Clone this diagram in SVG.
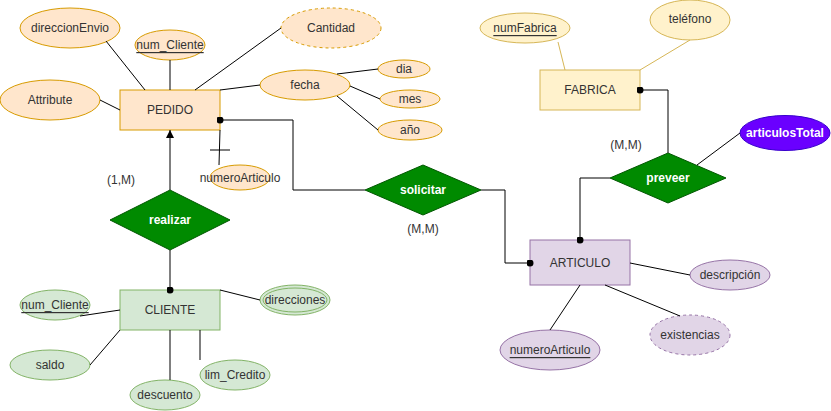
<svg xmlns="http://www.w3.org/2000/svg" width="831" height="411" viewBox="0 0 831 411">
<defs>
<style>
text{font-family:"Liberation Sans",Arial,sans-serif;font-size:12px;fill:#333333;text-anchor:middle;dominant-baseline:central}
.or{fill:#ffe6cc;stroke:#d79b00}
.gr{fill:#d5e8d4;stroke:#82b366}
.pu{fill:#e1d5e7;stroke:#9673a6}
.ye{fill:#fff2cc;stroke:#d6b656}
.rel{fill:#008a00;stroke:#005700}
.rt{fill:#ffffff;font-weight:bold}
.dash{stroke-dasharray:3 3}
.ln{fill:none;stroke:#000000;stroke-width:1}
.u{text-decoration:underline}
</style>
<marker id="dot" viewBox="0 0 10 10" refX="5" refY="5" markerWidth="7" markerHeight="7" markerUnits="userSpaceOnUse"><circle cx="5" cy="5" r="5" fill="#000"/></marker>
<marker id="arr" viewBox="0 0 10 10" refX="10" refY="5" markerWidth="8" markerHeight="8" markerUnits="userSpaceOnUse" orient="auto"><path d="M0,0 L10,5 L0,10 z" fill="#000"/></marker>
</defs>
<g id="PEDIDO"><rect class="or" x="120" y="90" width="100" height="40"/><text x="170" y="110">PEDIDO</text></g>
<g id="direccionEnvio"><ellipse class="or" cx="70" cy="28" rx="50" ry="20"/><text x="70" y="28">direccionEnvio</text></g>
<g id="num_Cliente_p"><ellipse class="or" cx="170" cy="45" rx="35" ry="15"/><text class="u" x="170" y="45">num_Cliente</text></g>
<g id="Cantidad"><ellipse class="or dash" cx="331" cy="28" rx="50" ry="20"/><text x="331" y="28">Cantidad</text></g>
<g id="Attribute"><ellipse class="or" cx="50" cy="100" rx="50" ry="20"/><text x="50" y="100">Attribute</text></g>
<g id="fecha"><ellipse class="or" cx="305" cy="85" rx="45" ry="15"/><text x="305" y="85">fecha</text></g>
<g id="dia"><ellipse class="or" cx="404" cy="69" rx="26" ry="9"/><text x="404" y="69">dia</text></g>
<g id="mes"><ellipse class="or" cx="410" cy="99" rx="30" ry="9"/><text x="410" y="99">mes</text></g>
<g id="anio"><ellipse class="or" cx="410" cy="130" rx="32" ry="10"/><text x="410" y="130">año</text></g>
<g id="numeroArticulo_p"><ellipse class="or" cx="240" cy="177.5" rx="30" ry="12.5"/><text x="240" y="178">numeroArticulo</text></g>
<g id="solicitar"><polygon class="rel" points="365,190 423,165 481,190 423,215"/><text class="rt" x="423" y="190">solicitar</text></g>
<text x="423" y="229">(M,M)</text>
<g id="ARTICULO"><rect class="pu" x="530" y="240" width="100" height="45"/><text x="580" y="263">ARTICULO</text></g>
<g id="descripcion"><ellipse class="pu" cx="730" cy="275" rx="40" ry="15"/><text x="730" y="275">descripción</text></g>
<g id="existencias"><ellipse class="pu dash" cx="690" cy="335" rx="40" ry="20"/><text x="690" y="335">existencias</text></g>
<g id="numeroArticulo"><ellipse class="pu" cx="550" cy="350" rx="50" ry="20"/><text class="u" x="550" y="350">numeroArticulo</text></g>
<g id="FABRICA"><rect class="ye" x="540" y="70" width="100" height="40"/><text x="590" y="90">FABRICA</text></g>
<g id="numFabrica"><ellipse class="ye" cx="525" cy="28" rx="45" ry="15"/><text class="u" x="525" y="28">numFabrica</text></g>
<g id="telefono"><ellipse class="ye" cx="690" cy="20" rx="40" ry="20"/><text x="690" y="19">teléfono</text></g>
<g id="preveer"><polygon class="rel" points="610,178 668,153 726,178 668,203"/><text class="rt" x="668" y="178">preveer</text></g>
<text x="626" y="145">(M,M)</text>
<g id="articulosTotal"><ellipse cx="785" cy="133" rx="45" ry="17.5" fill="#6a00ff" stroke="#3700cc"/><text class="rt" x="785" y="133">articulosTotal</text></g>
<g id="realizar"><polygon class="rel" points="110,220 170,190 230,220 170,250"/><text class="rt" x="170" y="220">realizar</text></g>
<text x="121" y="180">(1,M)</text>
<g id="CLIENTE"><rect class="gr" x="120" y="290" width="100" height="40"/><text x="170" y="310">CLIENTE</text></g>
<g id="num_Cliente"><ellipse class="gr" cx="55" cy="305" rx="35" ry="15"/><text class="u" x="55" y="305">num_Cliente</text></g>
<g id="saldo"><ellipse class="gr" cx="50" cy="365" rx="40" ry="15"/><text x="50" y="365">saldo</text></g>
<g id="descuento"><ellipse class="gr" cx="165" cy="395" rx="35" ry="15"/><text x="165" y="395">descuento</text></g>
<g id="lim_Credito"><ellipse class="gr" cx="235" cy="375" rx="35" ry="15"/><text x="235" y="375">lim_Credito</text></g>
<g id="direcciones"><ellipse class="gr" cx="295" cy="300" rx="35" ry="15"/><ellipse class="gr" cx="295" cy="300" rx="32" ry="12"/><text x="295" y="300">direcciones</text></g>
<g id="connectors">
<line class="ln" x1="106" y1="41" x2="145" y2="90"/>
<line class="ln" x1="170" y1="60" x2="170" y2="90"/>
<line class="ln" x1="281" y1="28" x2="195" y2="90"/>
<line class="ln" x1="100" y1="100" x2="120" y2="110"/>
<line class="ln" x1="220" y1="90" x2="260" y2="85"/>
<line class="ln" x1="337" y1="74" x2="378" y2="69"/>
<line class="ln" x1="350" y1="86" x2="380" y2="99"/>
<line class="ln" x1="337" y1="96" x2="378" y2="130"/>
<line class="ln" x1="220" y1="130" x2="219" y2="165"/>
<line class="ln" x1="210" y1="150" x2="230" y2="150"/>
<path class="ln" d="M365,190 L293,190 L293,120 L220,120" marker-end="url(#dot)"/>
<path class="ln" d="M481,190 L505,190 L505,263 L530,263" marker-end="url(#dot)"/>
<path class="ln" d="M610,178 L580,178 L580,240" marker-end="url(#dot)"/>
<path class="ln" d="M668,153 L668,90 L640,90" marker-end="url(#dot)"/>
<line class="ln" x1="697" y1="165" x2="740" y2="133"/>
<line x1="558" y1="42" x2="565" y2="70" stroke="#d6b656"/>
<line x1="690" y1="40" x2="640" y2="70" stroke="#d6b656"/>
<line class="ln" x1="630" y1="263" x2="690" y2="275"/>
<line class="ln" x1="605" y1="285" x2="680" y2="316"/>
<line class="ln" x1="580" y1="285" x2="550" y2="330"/>
<line class="ln" x1="170" y1="190" x2="170" y2="130" marker-end="url(#arr)"/>
<line class="ln" x1="170" y1="250" x2="170" y2="290" marker-end="url(#dot)"/>
<line class="ln" x1="80" y1="316" x2="120" y2="310"/>
<line class="ln" x1="90" y1="365" x2="120" y2="330"/>
<line class="ln" x1="170" y1="330" x2="170" y2="380"/>
<line class="ln" x1="200" y1="330" x2="200" y2="360"/>
<line class="ln" x1="220" y1="290" x2="260" y2="300"/>
</g>
</svg>
